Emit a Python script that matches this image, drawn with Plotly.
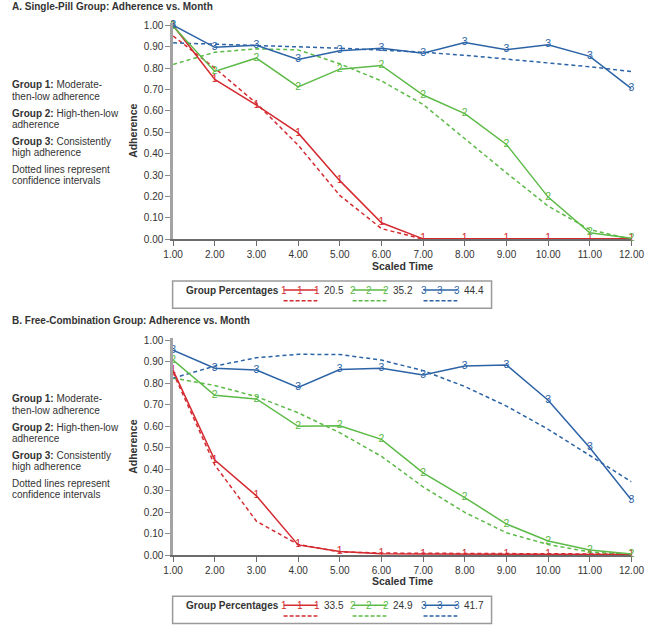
import plotly.graph_objects as go

W, H = 658, 629

scaled_time = [1, 2, 3, 4, 5, 6, 7, 8, 9, 10, 11, 12]
x_tick_labels = ["1.00", "2.00", "3.00", "4.00", "5.00", "6.00", "7.00", "8.00", "9.00", "10.00", "11.00", "12.00"]
y_tick_vals = [0.0, 0.1, 0.2, 0.3, 0.4, 0.5, 0.6, 0.7, 0.8, 0.9, 1.0]

# Panel A: Single-Pill Group
a_g1 = [1.00, 0.747, 0.627, 0.497, 0.274, 0.077, 0.002, 0.002, 0.002, 0.002, 0.002, 0.002]
a_g1_ci = [0.95, 0.80, 0.635, 0.44, 0.205, 0.05, 0.0, 0.0, 0.0, 0.0, 0.0, 0.0]
a_g2 = [0.995, 0.784, 0.847, 0.712, 0.795, 0.812, 0.674, 0.587, 0.443, 0.197, 0.03, 0.005]
a_g2_ci = [0.817, 0.874, 0.89, 0.885, 0.82, 0.74, 0.63, 0.47, 0.31, 0.155, 0.045, 0.0]
a_g3 = [1.00, 0.897, 0.907, 0.84, 0.881, 0.893, 0.869, 0.92, 0.886, 0.909, 0.855, 0.704]
a_g3_ci = [0.918, 0.912, 0.907, 0.90, 0.893, 0.884, 0.874, 0.86, 0.843, 0.826, 0.806, 0.784]
a_pct = ["20.5", "35.2", "44.4"]

# Panel B: Free-Combination Group
b_g1 = [0.86, 0.443, 0.276, 0.048, 0.017, 0.007, 0.006, 0.005, 0.005, 0.004, 0.004, 0.003]
b_g1_ci = [0.85, 0.42, 0.158, 0.05, 0.015, 0.01, 0.009, 0.008, 0.008, 0.007, 0.006, 0.005]
b_g2 = [0.908, 0.744, 0.727, 0.60, 0.602, 0.539, 0.383, 0.268, 0.145, 0.066, 0.024, 0.005]
b_g2_ci = [0.824, 0.79, 0.738, 0.663, 0.57, 0.46, 0.318, 0.199, 0.104, 0.05, 0.015, 0.003]
b_g3 = [0.954, 0.87, 0.862, 0.781, 0.864, 0.87, 0.839, 0.88, 0.885, 0.721, 0.50, 0.257]
b_g3_ci = [0.824, 0.88, 0.919, 0.935, 0.934, 0.908, 0.859, 0.785, 0.694, 0.586, 0.464, 0.341]
b_pct = ["33.5", "24.9", "41.7"]

group_labels = ["1", "2", "3"]
colors = ["#d42a30", "#5cba47", "#2b63a6"]

FONT = "Liberation Sans, Arial, sans-serif"
TXT = "#333333"


def X(px):
    return px / W


def Y(py):
    return 1 - py / H


fig = go.Figure()

panels = [
    ("x", "y", [(a_g1, a_g1_ci), (a_g2, a_g2_ci), (a_g3, a_g3_ci)]),
    ("x2", "y2", [(b_g1, b_g1_ci), (b_g2, b_g2_ci), (b_g3, b_g3_ci)]),
]

for xa, ya, series in panels:
    for i, (vals, ci) in enumerate(series):
        fig.add_trace(go.Scatter(
            x=scaled_time, y=ci, mode="lines", xaxis=xa, yaxis=ya,
            line=dict(color=colors[i], width=1.5, dash="4px,3px"),
            showlegend=False, hoverinfo="skip", cliponaxis=False))
    for i, (vals, ci) in enumerate(series):
        fig.add_trace(go.Scatter(
            x=scaled_time, y=vals, mode="lines+text", xaxis=xa, yaxis=ya,
            text=[group_labels[i]] * len(vals), textposition="middle center",
            textfont=dict(color=colors[i], size=10.5, family=FONT),
            line=dict(color=colors[i], width=1.5),
            showlegend=False, cliponaxis=False))

xdom = [X(169), X(644)]
ya_dom = [Y(239.3), Y(20.4)]
yb_dom = [Y(559.3), Y(339.5)]

axis_common_x = dict(
    range=[1, 12], tickvals=scaled_time, ticktext=x_tick_labels,
    showgrid=False, zeroline=False, showline=True, linecolor="#6b6b6b", linewidth=1.5,
    ticks="outside", ticklen=5, tickcolor="#6b6b6b", tickwidth=1,
    tickfont=dict(size=10, color=TXT, family=FONT), domain=xdom, fixedrange=True)
axis_common_y = dict(
    range=[0, 1.01], tickvals=y_tick_vals, tickformat=".2f",
    showgrid=False, zeroline=False, showline=True, linecolor="#a3a3a3", linewidth=2.5,
    ticks="outside", ticklen=5, tickcolor="#8a8a8a", tickwidth=1,
    tickfont=dict(size=10, color=TXT, family=FONT), fixedrange=True)

fig.update_layout(
    width=W, height=H, margin=dict(l=0, r=0, t=0, b=0),
    paper_bgcolor="white", plot_bgcolor="white",
    font=dict(family=FONT, color=TXT),
    xaxis=dict(anchor="y", **axis_common_x),
    yaxis=dict(anchor="x", domain=ya_dom, **axis_common_y),
    xaxis2=dict(anchor="y2", **axis_common_x),
    yaxis2=dict(anchor="x2", domain=yb_dom, **axis_common_y),
)

annotations = []
shapes = []


def add_text(x, y, text, size=10, xanchor="left", angle=0):
    annotations.append(dict(
        x=X(x), y=Y(y), xref="paper", yref="paper", text=text, showarrow=False,
        xanchor=xanchor, yanchor="middle", textangle=angle,
        font=dict(size=size, color=TXT, family=FONT)))


def panel_text(offset, title, pct, legend_y):
    add_text(0, offset + 4, "<b>" + title + "</b>", size=10)
    side = [
        (83, "<b>Group 1:</b> Moderate-"), (94.5, "then-low adherence"),
        (111.7, "<b>Group 2:</b> High-then-low"), (122.7, "adherence"),
        (140, "<b>Group 3:</b> Consistently"), (151, "high adherence"),
        (168.3, "Dotted lines represent"), (179.5, "confidence intervals"),
    ]
    for yy, t in side:
        add_text(0, offset + yy, t, size=10)
    # legend box
    ly = legend_y
    shapes.append(dict(type="rect", xref="paper", yref="paper",
                       x0=X(168.5), x1=X(499), y0=Y(ly - 9), y1=Y(ly + 18.5),
                       line=dict(color="#9a9a9a", width=1.5), fillcolor="rgba(0,0,0,0)"))
    add_text(180, ly + 0.5, "<b>Group Percentages</b>", size=10)
    starts = [283.5, 355, 428.5]
    for i, sx in enumerate(starts):
        shapes.append(dict(type="line", xref="paper", yref="paper",
                           x0=X(sx), x1=X(sx + 35), y0=Y(ly), y1=Y(ly),
                           line=dict(color=colors[i], width=1.5)))
        shapes.append(dict(type="line", xref="paper", yref="paper",
                           x0=X(sx), x1=X(sx + 35), y0=Y(ly + 11), y1=Y(ly + 11),
                           line=dict(color=colors[i], width=1.5, dash="4px,2px")))
        for k in range(3):
            annotations.append(dict(
                x=X(sx + k * 17.5), y=Y(ly + 0.5), xref="paper", yref="paper",
                text=group_labels[i], showarrow=False, xanchor="center", yanchor="middle",
                font=dict(size=10, color=colors[i], family=FONT)))
        add_text(sx + 39.5, ly + 0.5, pct[i], size=10)


panel_text(0, "A. Single-Pill Group: Adherence vs. Month", a_pct, 290.7)
panel_text(318, "B. Free-Combination Group: Adherence vs. Month", b_pct, 610)

# axis titles
add_text(128, 130, "<b>Adherence</b>", size=10.5, xanchor="center", angle=-90)
add_text(128, 450, "<b>Adherence</b>", size=10.5, xanchor="center", angle=-90)
add_text(406.5, 266.5, "<b>Scaled Time</b>", size=10.5, xanchor="center")
add_text(406.5, 585, "<b>Scaled Time</b>", size=10.5, xanchor="center")

fig.update_layout(annotations=annotations, shapes=shapes)

fig.write_html("out.html", config={"displayModeBar": False},
               post_script="document.body.style.margin='0px';")
